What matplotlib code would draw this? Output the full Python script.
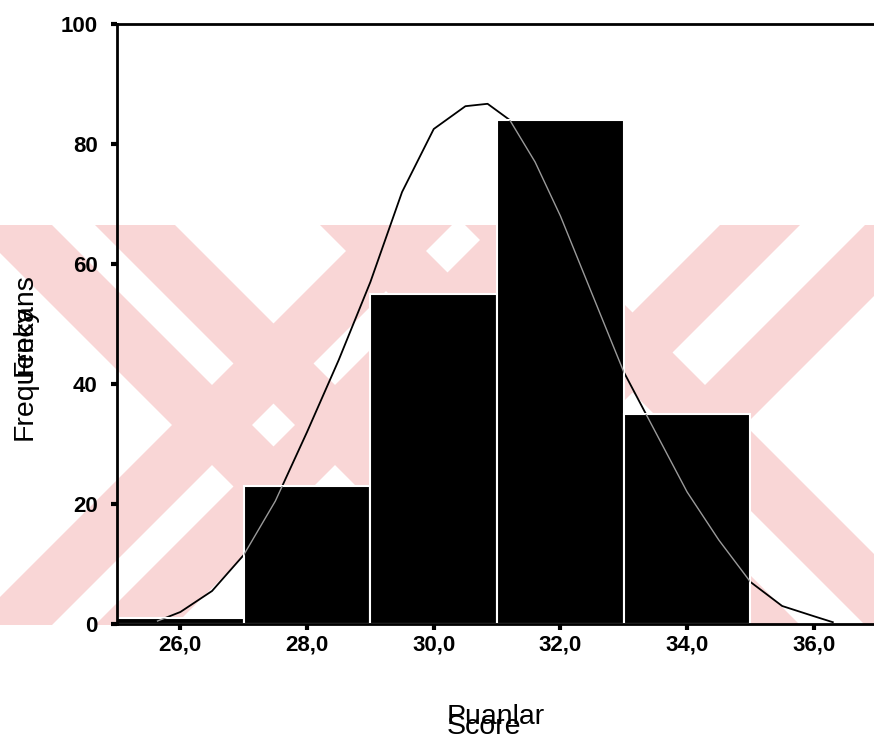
import matplotlib
matplotlib.use('Agg')

import matplotlib.pyplot as plt
from matplotlib.patches import Polygon

# histogram bins (score) and counts
bin_left = [25.0, 27.0, 29.0, 31.0, 33.0]
bin_width = 2.0
counts = [1, 23, 55, 84, 35]

# normal curve
curve_x = [25.64, 26.0, 26.5, 27.0, 27.5, 28.0, 28.5, 29.0, 29.5, 30.0, 30.5,
           30.85, 31.2, 31.6, 32.0, 32.5, 33.0, 33.5, 34.0, 34.5, 35.0, 35.5,
           36.0, 36.3]
curve_y = [0.5, 2.0, 5.5, 11.5, 20.5, 32.0, 44.0, 57.0, 72.0, 82.5, 86.3,
           86.7, 84.0, 77.0, 68.0, 55.0, 42.0, 32.0, 22.0, 14.0, 7.0, 3.0,
           1.3, 0.3]

xticks = [26, 28, 30, 32, 34, 36]
xtick_labels = ['26,0', '28,0', '30,0', '32,0', '34,0', '36,0']
yticks = [0, 20, 40, 60, 80, 100]

fig = plt.figure(figsize=(8.74, 7.37), dpi=100)

# pale watermark behind the plot, in pixel coords of the page
pink = '#f9d6d6'
W, H = 874.0, 737.0
top, bot, mid = 225, 625, 425

def band(cx, sign, w=80):
    half = (bot - top) / 2
    x_top = cx - sign * half
    x_bot = cx + sign * half
    pts = [(x_top - w / 2, top), (x_top + w / 2, top),
           (x_bot + w / 2, bot), (x_bot - w / 2, bot)]
    return [(px / W, 1 - py / H) for px, py in pts]

for cx in [212, 335, 560, 705]:
    for sign in (1, -1):
        fig.patches.append(Polygon(band(cx, sign), closed=True, transform=fig.transFigure,
                                   facecolor=pink, edgecolor='none', zorder=-1))

ax = fig.add_axes([117 / W, 1 - 624 / H, (874 - 117) / W, 600 / H])
ax.patch.set_alpha(0)

bars = ax.bar(bin_left, counts, width=bin_width, align='edge',
              color='black', edgecolor='white', linewidth=1.5, zorder=2)

ax.plot(curve_x, curve_y, color='black', linewidth=1.3, zorder=1)
for b in bars:
    ln, = ax.plot(curve_x, curve_y, color='#9a9a9a', linewidth=1.0, zorder=3)
    ln.set_clip_path(b)

ax.set_xlim(25.0, 36.95)
ax.set_ylim(0, 100)
ax.spines['right'].set_visible(False)
for s in ['left', 'top', 'bottom']:
    ax.spines[s].set_linewidth(2)

ax.set_xticks(xticks)
ax.set_xticklabels(xtick_labels)
ax.set_yticks(yticks)
ax.tick_params(axis='both', direction='out', length=4, width=3, labelsize=16)
ax.tick_params(axis='y', pad=10)
for lab in ax.get_xticklabels() + ax.get_yticklabels():
    lab.set_fontfamily('Liberation Sans')
    lab.set_fontweight('bold')

# overlapping axis titles, as in the scan
fig.text(12 / W, 1 - 440 / H, 'Frequency', rotation=90, fontsize=20.5,
         family='Liberation Sans', ha='left', va='top', rotation_mode='anchor')
fig.text(12 / W, 1 - 376 / H, 'Frekans', rotation=90, fontsize=20.5,
         family='Liberation Sans', ha='left', va='top', rotation_mode='anchor')
fig.text(447 / W, 1 - 724 / H, 'Puanlar', fontsize=20.5,
         family='Liberation Sans', ha='left', va='baseline')
fig.text(447 / W, 1 - 734 / H, 'Score', fontsize=20.5,
         family='Liberation Sans', ha='left', va='baseline')

fig.savefig('out.png', dpi=100)
